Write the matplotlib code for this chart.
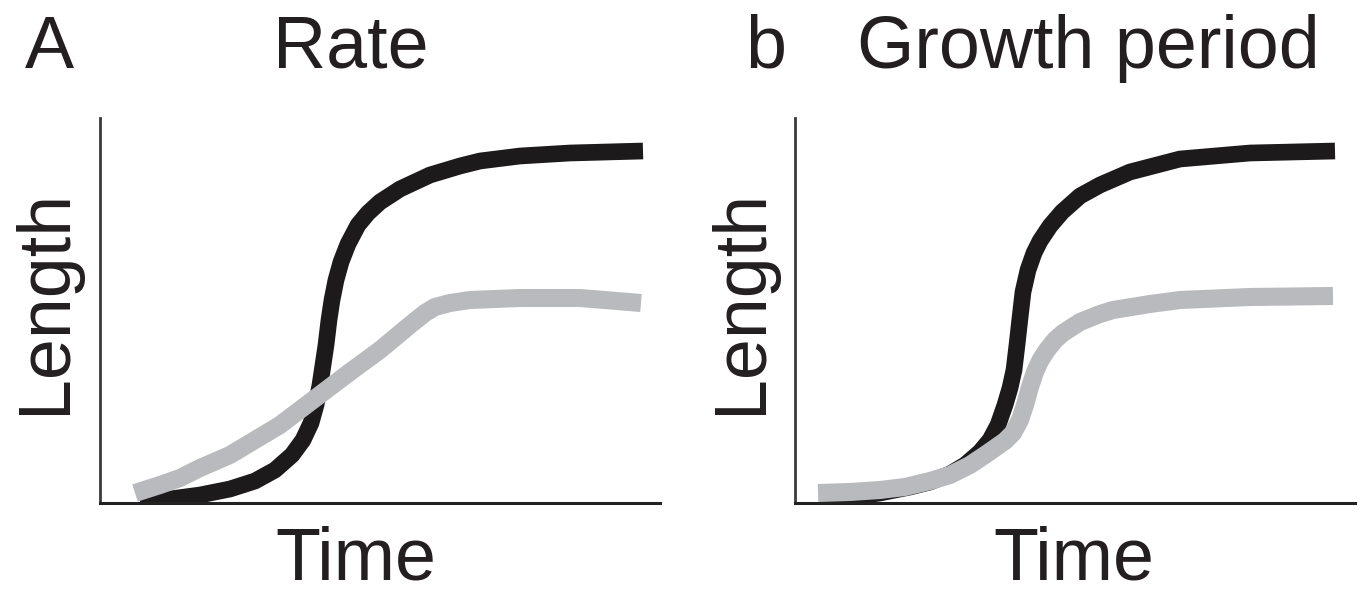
import matplotlib
matplotlib.use("Agg")
import matplotlib.pyplot as plt

plt.rcParams['font.family'] = ['Liberation Sans', 'DejaVu Sans']

# ---- data (time and length in arbitrary units; time 0-560, length 0-385) ----
a_black_t = [40, 70, 100, 130, 155, 175, 192, 203, 211, 216, 220, 223, 226, 229, 232, 236,
             241, 248, 258, 268, 280, 300, 330, 360, 380, 420, 470, 543]
a_black_l = [1, 4, 8, 14, 22, 33, 48, 63, 80, 98, 118, 138, 158, 183, 203, 223,
             241, 259, 278, 290, 301, 314, 328, 337, 342, 347, 350, 352]

a_gray_t = [35, 60, 80, 100, 130, 150, 180, 213, 250, 280, 310, 325, 335, 350, 370, 420, 480, 541]
a_gray_l = [10, 18, 25, 35, 48, 60, 78, 103, 131, 153, 178, 190, 196, 200, 203, 205, 205, 200]

b_black_t = [25, 55, 85, 115, 135, 155, 170, 185, 195, 203, 210, 215, 219, 222, 225, 228,
             233, 239, 245, 255, 267, 285, 305, 335, 385, 455, 540]
b_black_l = [3, 6, 10, 16, 21, 29, 38, 51, 63, 78, 98, 115, 133, 158, 185, 211,
             233, 250, 262, 277, 291, 307, 318, 331, 344, 350, 352]

b_gray_t = [23, 55, 85, 110, 135, 155, 175, 190, 200, 210, 218, 225, 230, 235, 240, 245,
            252, 260, 268, 285, 305, 318, 355, 385, 455, 538]
b_gray_l = [10, 11, 13, 16, 22, 28, 38, 48, 55, 62, 70, 83, 98, 116, 131, 142,
            153, 163, 170, 181, 189, 193, 199, 203, 206, 207]

panel_letters = ["A", "b"]
panel_titles = ["Rate", "Growth period"]
x_label = "Time"
y_label = "Length"

W, H = 1364, 595
fig = plt.figure(figsize=(W / 100, H / 100), dpi=100)

def fx(px):
    return px / W

def fy(py):
    return 1 - py / H

axes_px = [(100, 118, 560, 385), (795, 118, 560, 385)]
series = [
    ((a_black_t, a_black_l), (a_gray_t, a_gray_l)),
    ((b_black_t, b_black_l), (b_gray_t, b_gray_l)),
]

for (x0, y0, w, h), (blk, gry) in zip(axes_px, series):
    ax = fig.add_axes([fx(x0), fy(y0 + h), w / W, h / H])
    ax.plot(blk[0], blk[1], color='#1c1a1b', lw=12, solid_capstyle='butt',
            solid_joinstyle='round', zorder=2)
    ax.plot(gry[0], gry[1], color='#b9babd', lw=13, solid_capstyle='butt',
            solid_joinstyle='round', zorder=3)
    ax.set_xlim(0, 560)
    ax.set_ylim(0, 385)
    ax.set_xticks([])
    ax.set_yticks([])
    for s in ['top', 'right']:
        ax.spines[s].set_visible(False)
    ax.spines['left'].set_color('#3a3a3a')
    ax.spines['bottom'].set_color('#222222')
    ax.spines['left'].set_linewidth(2.0)
    ax.spines['bottom'].set_linewidth(2.2)

fs = 53
tc = '#231f20'
# panel letters and titles
fig.text(fx(25), fy(68), panel_letters[0], fontsize=fs, ha='left', va='baseline', color=tc)
fig.text(fx(273), fy(68), panel_titles[0], fontsize=fs, ha='left', va='baseline', color=tc)
fig.text(fx(745), fy(68), panel_letters[1], fontsize=fs, ha='left', va='baseline', color=tc)
fig.text(fx(857), fy(68), panel_titles[1], fontsize=fs, ha='left', va='baseline', color=tc)

# axis labels
for cx in [356, 1074]:
    fig.text(fx(cx), fy(580), x_label, fontsize=fs, ha='center', va='baseline', color=tc)
for cx in [46, 741]:
    fig.text(fx(cx), fy(301), y_label, fontsize=fs, ha='center', va='center',
             rotation=90, color=tc)

fig.savefig('out.png', dpi=100, facecolor='white')
